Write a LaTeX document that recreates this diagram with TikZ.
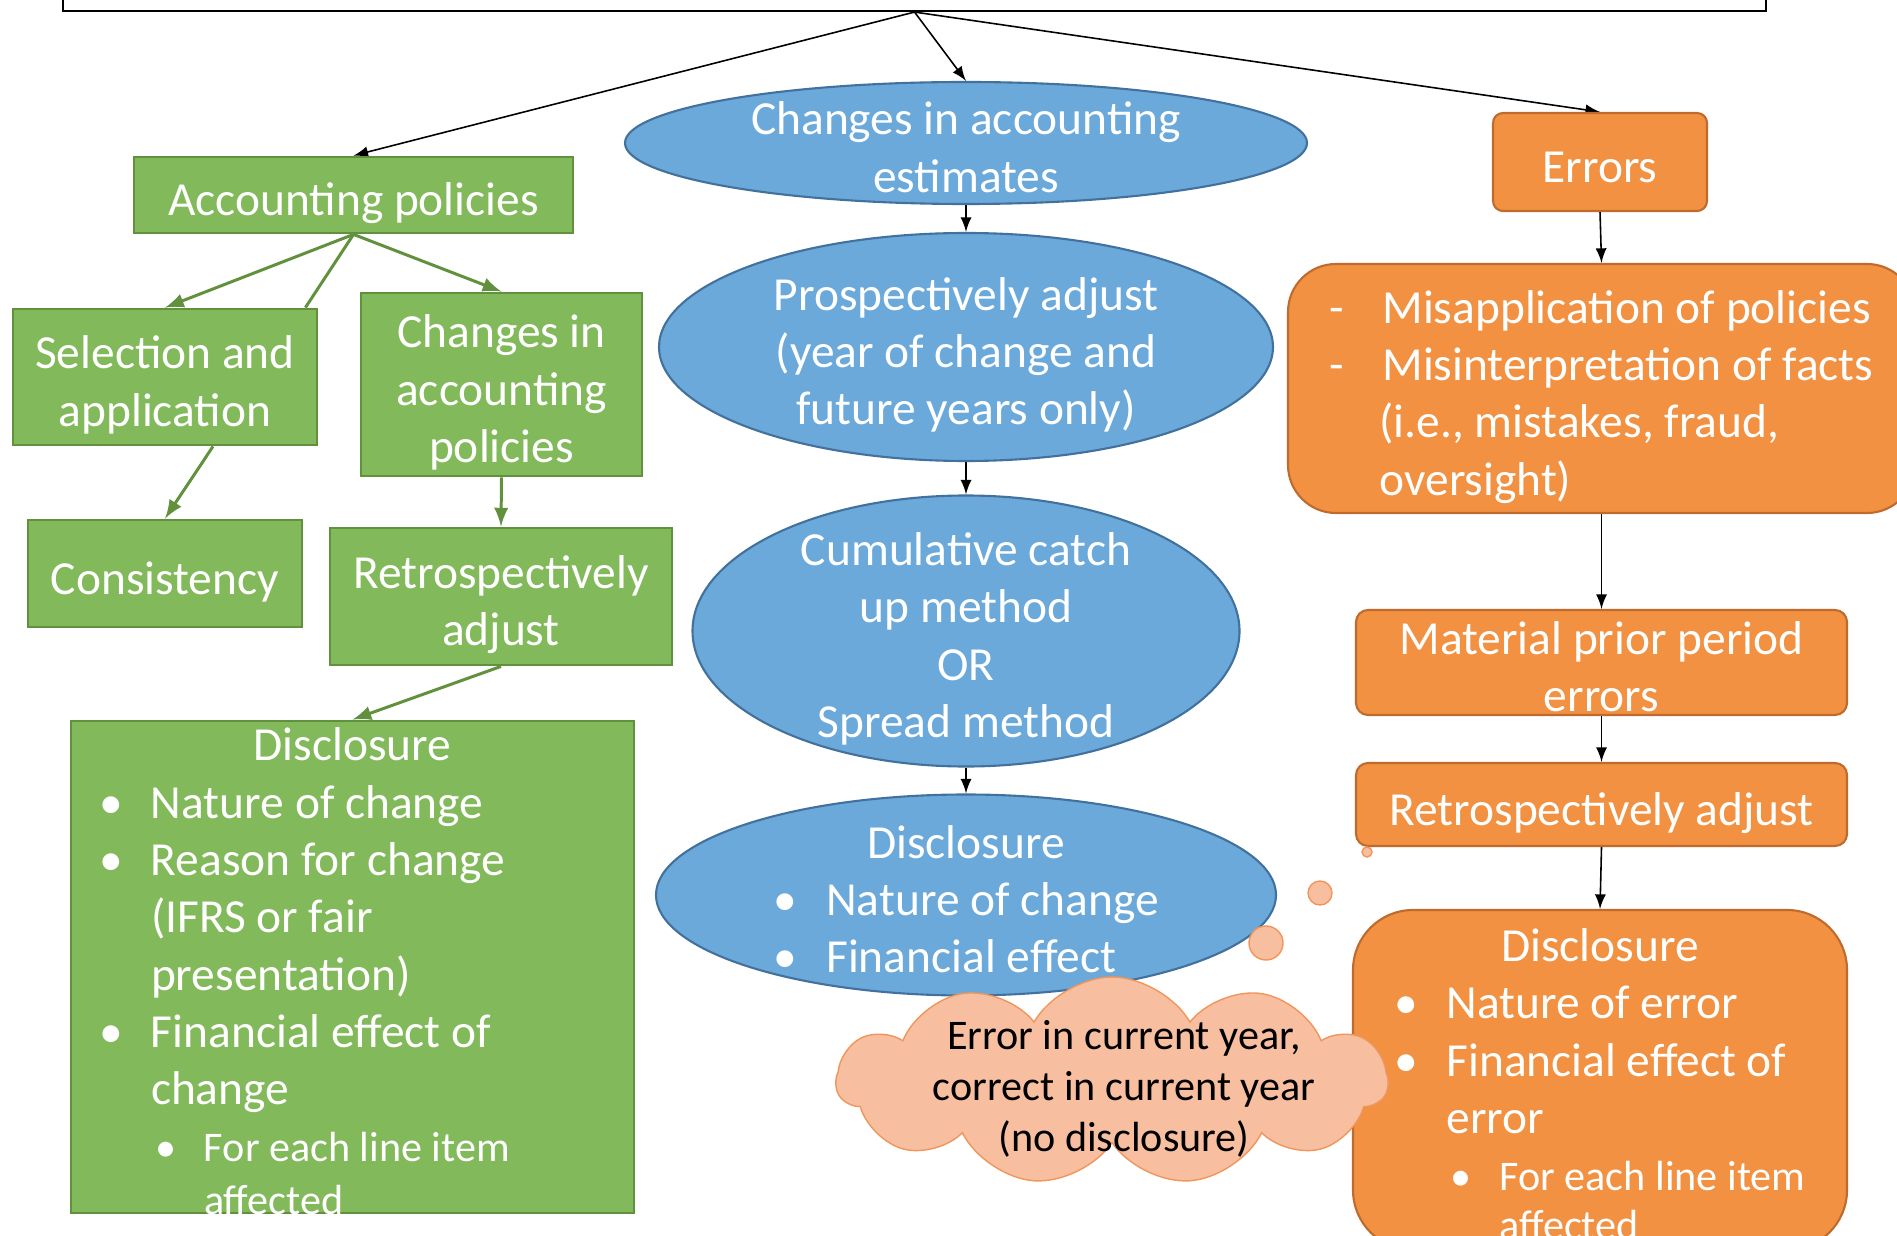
\documentclass[tikz,border=0pt]{standalone}
\usepackage{fontspec}
\setmainfont{Carlito}
\usepackage{tikz}
\usetikzlibrary{shapes.geometric}
\usetikzlibrary{shapes.symbols}
\pgfdeclarelayer{edgelayer}
\pgfdeclarelayer{nodelayer}
\pgfsetlayers{edgelayer,nodelayer,main}
\definecolor{greenfill}{RGB}{130,185,90}
\definecolor{greenline}{RGB}{98,145,61}
\definecolor{bluefill}{RGB}{107,169,219}
\definecolor{blueline}{RGB}{65,113,156}
\definecolor{orangefill}{RGB}{241,145,65}
\definecolor{orangeline}{RGB}{192,106,45}
\definecolor{cloudfill}{RGB}{248,190,160}
\definecolor{cloudline}{RGB}{240,150,90}
\newcommand{\nodefont}{\fontsize{13.5}{16.3}\selectfont}
\newcommand{\notefont}{\fontsize{12}{14.5}\selectfont}
\newcommand{\celltext}[2]{\smash{\raisebox{-0.46em}{\begin{tabular}{@{}#1@{}}#2\end{tabular}}}}
\tikzstyle{top_box}=[rectangle,fill=white,draw=black,line width=0.6pt]
\tikzstyle{policy_box}=[rectangle,fill=greenfill,draw=greenline,line width=0.8pt,text=white,font=\nodefont,inner sep=0pt]
\tikzstyle{estimate_oval}=[ellipse,fill=bluefill,draw=blueline,line width=0.6pt,text=white,font=\nodefont,inner sep=0pt]
\tikzstyle{error_box}=[rectangle,fill=orangefill,draw=orangeline,line width=0.6pt,text=white,font=\nodefont,inner sep=0pt]
\tikzstyle{thought}=[cloud,cloud puffs=11,cloud puff arc=120,cloud ignores aspect,fill=cloudfill,draw=cloudline,line width=0.4pt,font=\notefont,inner sep=0pt]
\tikzstyle{bubble}=[circle,fill=cloudfill,draw=cloudline,line width=0.4pt,inner sep=0pt]
\tikzstyle{transition}=[-latex,draw=black,line width=0.45pt]
\tikzstyle{green_transition}=[-latex,draw=greenline,line width=0.85pt]

\begin{document}
\begin{tikzpicture}
	\useasboundingbox (0,0) rectangle (18.97,-12.36);
	\begin{pgfonlayer}{nodelayer}
		\node [style=top_box, minimum width=17.03cm, minimum height=1.2cm] (0) at (9.145, 0.49) {};
		\node [style=policy_box, minimum width=4.39cm, minimum height=0.76cm] (1) at (3.535, -1.95) {\celltext{c}{Accounting policies}};
		\node [style=estimate_oval, minimum width=6.82cm, minimum height=1.22cm] (2) at (9.66, -1.43) {\celltext{c}{Changes in accounting\\estimates}};
		\node [style=error_box, rounded corners=0.1cm, minimum width=2.14cm, minimum height=0.98cm] (3) at (16.0, -1.62) {\celltext{c}{Errors}};
		\node [style=policy_box, minimum width=3.04cm, minimum height=1.36cm] (4) at (1.65, -3.77) {\celltext{c}{Selection and\\application}};
		\node [style=policy_box, minimum width=2.81cm, minimum height=1.83cm] (5) at (5.015, -3.845) {\celltext{c}{Changes in\\accounting\\policies}};
		\node [style=policy_box, minimum width=2.74cm, minimum height=1.07cm] (6) at (1.65, -5.735) {\celltext{c}{Consistency}};
		\node [style=policy_box, minimum width=3.42cm, minimum height=1.37cm] (7) at (5.01, -5.965) {\celltext{c}{Retrospectively\\adjust}};
		\node [style=policy_box, minimum width=5.63cm, minimum height=4.92cm] (8) at (3.525, -9.67) {\celltext{p{0.52cm}@{}p{4.55cm}}{\multicolumn{2}{@{}c@{}}{Disclosure}\\
			\textbullet & Nature of change\\
			\textbullet & Reason for change\\
			& (IFRS or fair\\
			& presentation)\\
			\textbullet & Financial effect of\\
			& change\\
			& {\notefont\hspace*{0.04cm}\makebox[0.49cm][l]{\textbullet}For each line item}\\[-1.4pt]
			& {\notefont\hspace*{0.53cm}affected}}};
		\node [style=estimate_oval, minimum width=6.14cm, minimum height=2.28cm] (9) at (9.66, -3.47) {\celltext{c}{Prospectively adjust\\(year of change and\\future years only)}};
		\node [style=estimate_oval, minimum width=5.47cm, minimum height=2.71cm] (10) at (9.66, -6.31) {\celltext{c}{Cumulative catch\\up method\\OR\\Spread method}};
		\node [style=estimate_oval, minimum width=6.2cm, minimum height=2.01cm] (11) at (9.66, -8.95) {\celltext{p{0.53cm}@{}l}{\multicolumn{2}{@{}c@{}}{Disclosure}\\
			\textbullet & Nature of change\\
			\textbullet & Financial effect}};
		\node [style=error_box, rounded corners=0.48cm, minimum width=6.27cm, minimum height=2.49cm] (12) at (16.015, -3.885) {\celltext{p{0.53cm}@{}l}{- & Misapplication of policies\\
			- & Misinterpretation of facts\\
			& \hspace*{-0.03cm}(i.e., mistakes, fraud,\\
			& \hspace*{-0.03cm}oversight)}};
		\node [style=error_box, rounded corners=0.12cm, minimum width=4.91cm, minimum height=1.05cm] (13) at (16.015, -6.625) {\celltext{c}{Material prior period\\errors}};
		\node [style=error_box, rounded corners=0.12cm, minimum width=4.91cm, minimum height=0.83cm] (14) at (16.015, -8.045) {\celltext{c}{Retrospectively adjust}};
		\node [style=error_box, rounded corners=0.6cm, minimum width=4.94cm, minimum height=3.4cm] (15) at (16.0, -10.8) {\celltext{p{0.52cm}@{}l}{\multicolumn{2}{@{}c@{}}{Disclosure}\\
			\textbullet & Nature of error\\
			\textbullet & Financial effect of\\
			& error\\
			& {\notefont\hspace*{0.04cm}\makebox[0.49cm][l]{\textbullet}For each line item}\\[-2.4pt]
			& {\notefont\hspace*{0.53cm}affected}}};
	\end{pgfonlayer}
	\begin{pgfonlayer}{edgelayer}
		\draw [style=transition] (0.south) to (1.north);
		\draw [style=transition] (0.south) to (2.north);
		\draw [style=transition] (0.south) to (3.north);
		\draw [style=green_transition] (1.south) to (4.north);
		\draw [draw=greenline, line width=0.85pt] (1.south) to ([xshift=-0.13cm]4.north east);
		\draw [style=green_transition] (1.south) to (5.north);
		\draw [style=green_transition] ([xshift=0.48cm]4.south) to (6.north);
		\draw [style=green_transition] (5.south) to (7.north);
		\draw [style=green_transition] (7.south) to (8.north);
		\draw [style=transition] (2.south) to (9.north);
		\draw [style=transition] (9.south) to (10.north);
		\draw [style=transition] (10.south) to (11.north);
		\draw [style=transition] (3.south) to (12.north);
		\draw [style=transition] (12.south) to (13.north);
		\draw [style=transition] (13.south) to (14.north);
		\draw [style=transition] (14.south) to (15.north);
	\end{pgfonlayer}
	% thought cloud on top
	\node [style=bubble, minimum size=0.1cm] (16) at (13.67, -8.52) {};
	\node [style=bubble, minimum size=0.24cm] (17) at (13.20, -8.93) {};
	\node [style=bubble, minimum size=0.34cm] (18) at (12.66, -9.43) {};
	\node [style=thought, minimum width=5.48cm, minimum height=2.08cm] (19) at (11.12, -10.81) {\hspace*{0.24cm}\celltext{c}{Error in current year,\\correct in current year\\(no disclosure)}};
\end{tikzpicture}
\end{document}
